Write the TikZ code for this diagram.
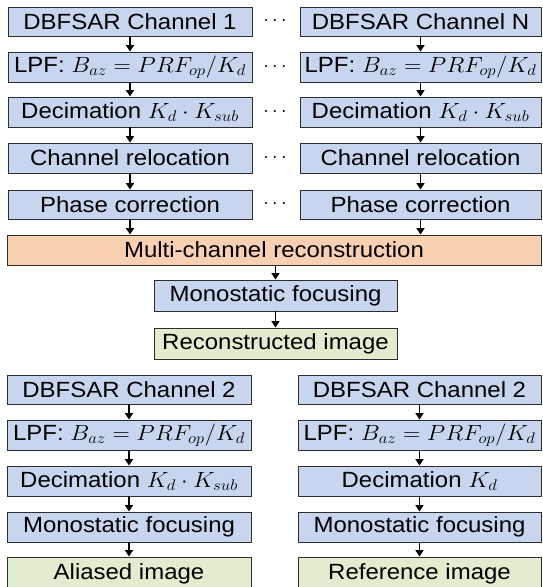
\RequirePackage{fix-cm}
\documentclass[tikz,border=0pt]{standalone}
\usepackage{fontspec}
\setmainfont{Liberation Sans}
\usepackage{graphicx}
\usetikzlibrary{arrows.meta}
\definecolor{bfill}{RGB}{199,214,238}
\definecolor{ofill}{RGB}{250,208,178}
\definecolor{gfill}{RGB}{226,236,206}
\definecolor{bord}{RGB}{45,45,45}
\newcommand{\hs}[1]{\scalebox{1.09}[1]{#1}}
\tikzset{
  box/.style={draw=bord, line width=0.9pt, inner sep=0pt, font=\fontsize{22}{26}\selectfont},
  bluebox/.style={box, fill=bfill},
  orangebox/.style={box, fill=ofill},
  greenbox/.style={box, fill=gfill},
  colL/.style={minimum width=244pt},
  colR/.style={minimum width=241pt},
  hA/.style={minimum height=29pt},
  hB/.style={minimum height=30pt},
  dotsnode/.style={inner sep=0pt, font=\fontsize{20}{24}\selectfont},
  arr/.style={-{Triangle[width=8pt,length=6.5pt]}, line width=1.7pt, black}
}
\begin{document}
\begin{tikzpicture}[x=1pt,y=-1pt]
\useasboundingbox (0,0) rectangle (542,587);
% top left column
\node[bluebox,colL,hA] (l1) at (130,21.5) {\hs{DBFSAR Channel 1}};
\node[bluebox,colL,hB] (l2) at (130,67) {\hs{LPF: $B_{az}=PRF_{op}/K_d$}};
\node[bluebox,colL,hB] (l3) at (130,112) {\hs{Decimation $K_d\cdot K_{sub}$}};
\node[bluebox,colL,hB] (l4) at (130,158) {\hs{Channel relocation}};
\node[bluebox,colL,hA] (l5) at (130,204.5) {\hs{Phase correction}};
% top right column
\node[bluebox,colR,hA] (r1) at (420.5,21.5) {\hs{DBFSAR Channel N}};
\node[bluebox,colR,hB] (r2) at (420.5,67) {\hs{LPF: $B_{az}=PRF_{op}/K_d$}};
\node[bluebox,colR,hB] (r3) at (420.5,112) {\hs{Decimation $K_d\cdot K_{sub}$}};
\node[bluebox,colR,hB] (r4) at (420.5,158) {\hs{Channel relocation}};
\node[bluebox,colR,hA] (r5) at (420.5,204.5) {\hs{Phase correction}};
% dots
\node[dotsnode] (d1) at (275,21.5) {$\cdots$};
\node[dotsnode] (d2) at (275,67) {$\cdots$};
\node[dotsnode] (d3) at (275,112) {$\cdots$};
\node[dotsnode] (d4) at (275,158) {$\cdots$};
\node[dotsnode] (d5) at (275,204.5) {$\cdots$};
% reconstruction
\node[orangebox,minimum width=534pt,hB] (rec) at (274,250) {\hs{Multi-channel reconstruction}};
\node[bluebox,minimum width=243pt,minimum height=31pt] (mono) at (275.5,295.5) {\hs{Monostatic focusing}};
\node[greenbox,minimum width=243pt,minimum height=31pt] (img) at (275.5,343.5) {\hs{Reconstructed image}};
% bottom left
\node[bluebox,colL,hA] (bl1) at (129,389.5) {\hs{DBFSAR Channel 2}};
\node[bluebox,colL,hB] (bl2) at (129,435) {\hs{LPF: $B_{az}=PRF_{op}/K_d$}};
\node[bluebox,colL,hB] (bl3) at (129,481) {\hs{Decimation $K_d\cdot K_{sub}$}};
\node[bluebox,colL,hB] (bl4) at (129,527) {\hs{Monostatic focusing}};
\node[greenbox,colL,minimum height=34pt] (bl5) at (129,574) {\raisebox{4pt}{\hs{Aliased image}}};
% bottom right
\node[bluebox,minimum width=243pt,hA] (br1) at (419.5,389.5) {\hs{DBFSAR Channel 2}};
\node[bluebox,minimum width=243pt,hB] (br2) at (419.5,435) {\hs{LPF: $B_{az}=PRF_{op}/K_d$}};
\node[bluebox,minimum width=243pt,hB] (br3) at (419.5,481) {\hs{Decimation $K_d$}};
\node[bluebox,minimum width=243pt,hB] (br4) at (419.5,527) {\hs{Monostatic focusing}};
\node[greenbox,minimum width=243pt,minimum height=34pt] (br5) at (419.5,574) {\raisebox{4pt}{\hs{Reference image}}};
% arrows
\foreach \a/\b in {l1/l2,l2/l3,l3/l4,l4/l5,r1/r2,r2/r3,r3/r4,r4/r5,mono/img,bl1/bl2,bl2/bl3,bl3/bl4,bl4/bl5,br1/br2,br2/br3,br3/br4,br4/br5}
  \draw[arr] (\a.south) -- (\b.north);
\draw[arr] (l5.south) -- (l5.south |- rec.north);
\draw[arr] (r5.south) -- (r5.south |- rec.north);
\draw[arr] (rec.south -| mono.north) -- (mono.north);
\end{tikzpicture}
\end{document}
